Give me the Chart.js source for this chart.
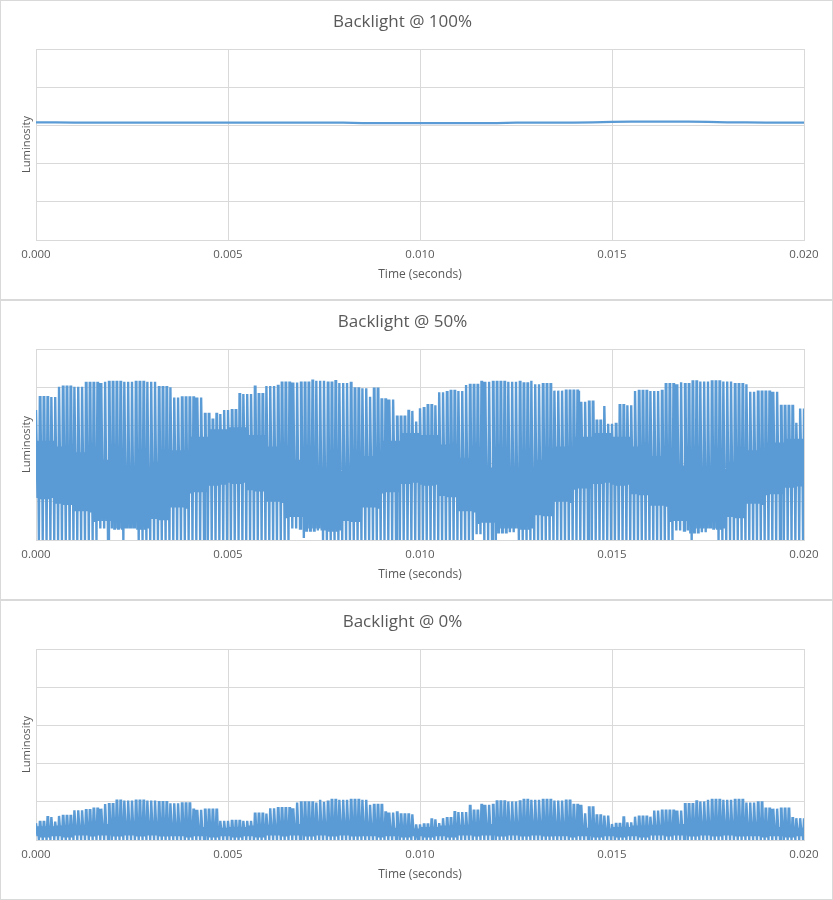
<!DOCTYPE html>
<html>
<head>
<meta charset="utf-8">
<script src="https://cdn.jsdelivr.net/npm/chart.js@4.4.0/dist/chart.umd.min.js"></script>
<style>
  body { margin: 0; background: #fff; }
  .panel { position: absolute; left: 0; width: 833px; height: 300px; box-sizing: border-box; border: 1px solid #d9d9d9; background: #fff; }
  .panel canvas { display: block; }
</style>
</head>
<body>
<div class="panel" style="top:0"><canvas id="c100" width="831" height="298"></canvas></div>
<div class="panel" style="top:300px"><canvas id="c50" width="831" height="298"></canvas></div>
<div class="panel" style="top:600px"><canvas id="c0" width="831" height="298"></canvas></div>
<script>
// x axis tick labels (seconds)
var timeTicks = ['0.000', '0.005', '0.010', '0.015', '0.020'];
var pwmPeriod = 0.0001; // one PWM cycle, seconds
var bandBlock = 5;      // band edges are read every 5 cycles

// Backlight @ 100%: luminosity every 0.5 ms
var lum100 = [3.08, 3.08, 3.07, 3.07, 3.07, 3.07, 3.07, 3.07, 3.07, 3.07,
              3.07, 3.07, 3.07, 3.07, 3.07, 3.07, 3.07, 3.06, 3.06, 3.06,
              3.06, 3.06, 3.06, 3.06, 3.06, 3.07, 3.07, 3.07, 3.07, 3.08,
              3.09, 3.10, 3.10, 3.10, 3.10, 3.09, 3.08, 3.08, 3.07, 3.07, 3.07];

// Backlight @ 50%: peaks per PWM cycle, runs of [cycles, level]
var peaks50 = [[1,3.40],[5,3.74],[7,4.01],[5,4.11],[14,4.14],[4,4.00],[8,3.73],[2,3.30],[1,3.15],[2,3.30],
               [4,3.40],[4,3.82],[1,4.01],[2,3.82],[4,4.03],[8,4.12],[4,4.17],[2,4.12],[1,4.16],[4,4.11],
               [4,3.97],[1,3.75],[2,3.96],[4,3.68],[3,3.23],[2,3.38],[1,3.10],[2,3.45],[3,3.53],[3,3.87],
               [4,3.90],[4,4.06],[11,4.14],[2,4.10],[1,4.17],[5,4.08],[7,3.91],[4,3.62],[2,3.12],[1,3.51],
               [3,3.04],[4,3.53],[8,3.90],[4,4.08],[1,4.13],[2,4.08],[11,4.15],[4,4.08],[8,3.88],[4,3.51],
               [1,3.07],[2,3.44]];
// dense band in the middle, one value per 5 cycles
var bandHigh50 = [2.60, 2.45, 2.30, 2.10, 1.85, 1.85, 2.05, 2.35, 2.70, 2.90,
                  2.95, 2.75, 2.45, 2.10, 1.60, 1.60, 1.95, 2.20, 2.60, 2.80,
                  2.75, 2.50, 2.15, 1.90, 1.70, 1.80, 2.10, 2.45, 2.70, 2.80,
                  2.70, 2.45, 2.20, 1.95, 1.70, 1.80, 2.05, 2.35, 2.55, 2.65];
var bandLow50 = [1.10, 0.95, 0.75, 0.50, 0.30, 0.30, 0.55, 0.85, 1.25, 1.45,
                 1.50, 1.30, 1.00, 0.60, 0.25, 0.25, 0.50, 0.85, 1.25, 1.50,
                 1.45, 1.15, 0.75, 0.45, 0.20, 0.30, 0.65, 1.00, 1.35, 1.50,
                 1.45, 1.20, 0.90, 0.50, 0.20, 0.30, 0.60, 0.95, 1.20, 1.40];
var troughs50 = [[16,0],[2,0.3],[1,0],[3,0.3],[1,0],[3,0.3],[40,0],[3,0.3],[1,0.05],[4,0.3],
                 [40,0],[2,0.15],[4,0],[5,0.3],[41,0],[4,0.25],[1,0],[6,0.3],[24,0]];

// Backlight @ 0%: peaks per PWM cycle, runs of [cycles, level]
var peaks0 = [[1,0.44],[2,0.47],[2,0.60],[1,0.48],[4,0.63],[5,0.78],[3,0.82],[3,0.94],[11,1.03],[3,0.99],
              [6,0.96],[7,0.79],[9,0.50],[4,0.69],[7,0.83],[6,0.98],[1,1.05],[2,1.00],[10,1.05],[4,0.92],
              [4,0.72],[4,0.67],[4,0.41],[2,0.54],[1,0.44],[3,0.57],[4,0.73],[1,0.89],[2,0.77],[4,0.92],
              [7,1.01],[8,1.05],[5,1.03],[3,0.92],[1,0.70],[2,0.85],[4,0.64],[3,0.42],[1,0.59],[2,0.46],
              [5,0.61],[8,0.77],[3,0.94],[3,1.01],[10,1.05],[5,0.98],[7,0.82],[4,0.57]];
var bandHigh0 = [0.36, 0.38, 0.40, 0.42, 0.42, 0.42, 0.40, 0.38, 0.34, 0.32,
                 0.34, 0.38, 0.40, 0.42, 0.42, 0.42, 0.40, 0.36, 0.32, 0.30,
                 0.34, 0.38, 0.40, 0.42, 0.42, 0.42, 0.40, 0.36, 0.32, 0.30,
                 0.34, 0.38, 0.40, 0.42, 0.42, 0.42, 0.40, 0.36, 0.34, 0.32];
var bandLow0 = [0.10, 0.10, 0.12, 0.12, 0.12, 0.12, 0.12, 0.10, 0.10, 0.10,
                0.10, 0.10, 0.12, 0.12, 0.12, 0.12, 0.12, 0.10, 0.10, 0.10,
                0.10, 0.10, 0.12, 0.12, 0.12, 0.12, 0.12, 0.10, 0.10, 0.10,
                0.10, 0.10, 0.12, 0.12, 0.12, 0.12, 0.12, 0.10, 0.10, 0.10];
var troughs0 = [[201,0]];

function expand(runs) {
  var out = [];
  runs.forEach(function (r) {
    for (var k = 0; k < r[0]; k++) out.push(r[1]);
  });
  return out;
}

function expandBlocks(values, n) {
  var out = [];
  for (var i = 0; i < n; i++) out.push(values[Math.min(Math.floor(i / bandBlock), values.length - 1)]);
  return out;
}

// each PWM cycle: short flat peak, low edge of the ringing band, high edge, trough
function pwmTrace(peaks, bandLow, bandHigh, troughs) {
  var p = expand(peaks), tr = expand(troughs);
  var lo = expandBlocks(bandLow, p.length), hi = expandBlocks(bandHigh, p.length);
  var pts = [];
  for (var i = 0; i < p.length; i++) {
    var t = i * pwmPeriod;
    pts.push({x: t, y: p[i]});
    if (i < p.length - 1) {
      pts.push({x: t + pwmPeriod * 0.15, y: p[i]});
      pts.push({x: t + pwmPeriod * 0.4, y: lo[i]});
      pts.push({x: t + pwmPeriod * 0.55, y: hi[i]});
      pts.push({x: t + pwmPeriod * 0.75, y: tr[i]});
    }
  }
  return pts;
}

var grey = '#595959';
var gridColor = '#d9d9d9';
var font = 'Open Sans';

function makeChart(id, title, points, lineWidth) {
  return new Chart(document.getElementById(id), {
    type: 'line',
    data: {
      datasets: [{
        data: points,
        borderColor: '#5b9bd5',
        borderWidth: lineWidth,
        pointRadius: 0,
        tension: 0,
        fill: false
      }]
    },
    options: {
      responsive: false,
      animation: false,
      events: [],
      layout: { padding: { right: 28 } },
      plugins: {
        legend: { display: false },
        tooltip: { enabled: false },
        title: {
          display: true,
          text: title,
          color: grey,
          font: { family: font, size: 17, weight: 'normal' },
          padding: { top: 11, bottom: 16.6 }
        }
      },
      scales: {
        x: {
          type: 'linear',
          min: 0,
          max: 0.02,
          afterBuildTicks: function (scale) {
            scale.ticks = timeTicks.map(function (v) { return {value: parseFloat(v)}; });
          },
          afterFit: function (scale) { scale.height = 59; },
          ticks: {
            color: grey,
            font: { family: font, size: 11.5 },
            padding: 8,
            maxRotation: 0,
            callback: function (v, i) { return timeTicks[i]; }
          },
          grid: { color: gridColor, drawTicks: false },
          border: { color: gridColor },
          title: {
            display: true,
            text: 'Time (seconds)',
            color: grey,
            font: { family: font, size: 12 },
            padding: { top: 0, bottom: 17 }
          }
        },
        y: {
          min: 0,
          max: 5,
          afterFit: function (scale) { scale.width = 35; },
          ticks: { display: false, stepSize: 1 },
          grid: { color: gridColor, drawTicks: false },
          border: { color: gridColor },
          title: {
            display: true,
            text: 'Luminosity',
            color: grey,
            font: { family: font, size: 11.2 },
            padding: { top: 19.5, bottom: 0 }
          }
        }
      }
    }
  });
}

var pts100 = lum100.map(function (v, i) { return {x: i * 0.0005, y: v}; });
makeChart('c100', 'Backlight @ 100%', pts100, 2.25);
makeChart('c50', 'Backlight @ 50%', pwmTrace(peaks50, bandLow50, bandHigh50, troughs50), 2.4);
makeChart('c0', 'Backlight @ 0%', pwmTrace(peaks0, bandLow0, bandHigh0, troughs0), 2.4);
</script>
</body>
</html>
